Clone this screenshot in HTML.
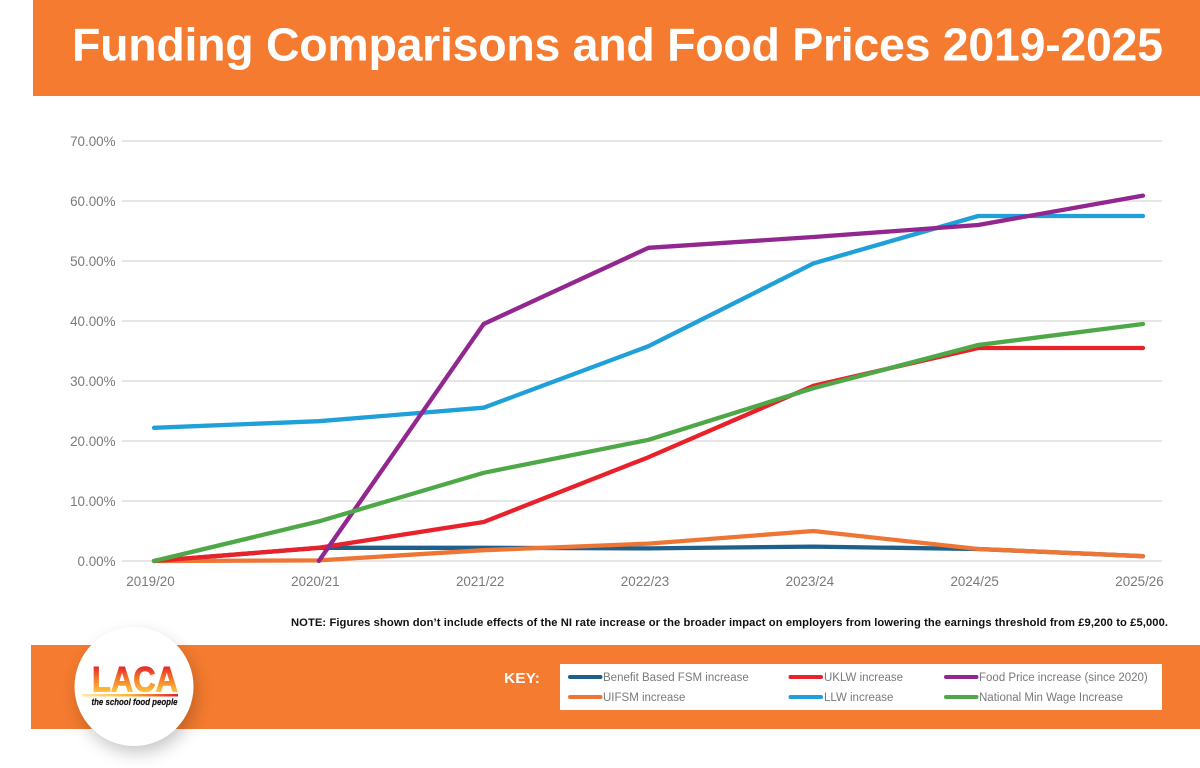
<!DOCTYPE html>
<html lang="en">
<head>
<meta charset="utf-8">
<title>Funding Comparisons and Food Prices 2019-2025</title>
<style>
html,body{margin:0;padding:0;background:#fff;width:1200px;height:768px;overflow:hidden}
svg{display:block;font-family:"Liberation Sans",Arial,sans-serif}
</style>
</head>
<body>
<svg id="page" xmlns="http://www.w3.org/2000/svg" width="1200" height="768" viewBox="0 0 1200 768">
  <defs>
    <linearGradient id="laca-grad" gradientUnits="userSpaceOnUse" x1="0" y1="666" x2="0" y2="692">
      <stop offset="0" stop-color="#e2232b"/>
      <stop offset="0.45" stop-color="#f4722a"/>
      <stop offset="1" stop-color="#fcc43a"/>
    </linearGradient>
    <linearGradient id="bar-grad" x1="0" y1="0" x2="1" y2="0">
      <stop offset="0" stop-color="#fde9a8"/>
      <stop offset="0.5" stop-color="#fbb334"/>
      <stop offset="1" stop-color="#e2232b"/>
    </linearGradient>
    <filter id="soft-shadow" x="-40%" y="-40%" width="180%" height="180%">
      <feGaussianBlur stdDeviation="9"/>
    </filter>
  </defs>

  <rect x="33" y="0" width="1167" height="96" fill="#f47b2f"/>
  <text x="72" y="60.500" font-size="46.500" font-weight="700" fill="#fff" textLength="1091" lengthAdjust="spacing">Funding Comparisons and Food Prices 2019-2025</text>

  <g id="grid"></g>
  <g id="y-axis"></g>
  <g id="x-axis"></g>
  <g id="series"></g>

  <text x="291" y="626" font-size="11.200" font-weight="700" fill="#111" textLength="877" lengthAdjust="spacing">NOTE: Figures shown don’t include effects of the NI rate increase or the broader impact on employers from lowering the earnings threshold from £9,200 to £5,000.</text>

  <rect x="31" y="645" width="1169" height="84" fill="#f47b2f"/>

  <g>
    <circle cx="137" cy="694" r="58" fill="#000" opacity="0.24" filter="url(#soft-shadow)"/>
    <circle cx="134" cy="686.500" r="59.500" fill="#fff"/>
    <text x="92" y="691.500" font-size="35.500" font-weight="700" fill="url(#laca-grad)" stroke="url(#laca-grad)" stroke-width="0.9" textLength="86" lengthAdjust="spacingAndGlyphs">LACA</text>
    <rect x="82" y="694" width="96" height="2.500" fill="url(#bar-grad)"/>
    <text x="91.500" y="705" font-size="9.600" font-weight="700" font-style="italic" fill="#111" stroke="#111" stroke-width="0.2" textLength="86" lengthAdjust="spacingAndGlyphs">the school food people</text>
  </g>

  <text x="504" y="683" font-size="14.500" font-weight="700" fill="#fff" textLength="36" lengthAdjust="spacingAndGlyphs">KEY:</text>
  <rect x="560" y="664" width="602" height="46" fill="#fff"/>

  <g>
    <line x1="570" y1="677" x2="600.500" y2="677" stroke="#1f5f8b" stroke-width="4" stroke-linecap="round"/>
    <text x="603" y="681" font-size="11.500" fill="#7a7a7a">Benefit Based FSM increase</text>
  </g>
  <g>
    <line x1="570" y1="697" x2="600.500" y2="697" stroke="#ee7534" stroke-width="4" stroke-linecap="round"/>
    <text x="603" y="701" font-size="11.500" fill="#7a7a7a">UIFSM increase</text>
  </g>
  <g>
    <line x1="790.500" y1="677" x2="821" y2="677" stroke="#e8212b" stroke-width="4" stroke-linecap="round"/>
    <text x="824" y="681" font-size="11.500" fill="#7a7a7a">UKLW increase</text>
  </g>
  <g>
    <line x1="790.500" y1="697" x2="821" y2="697" stroke="#1fa0d8" stroke-width="4" stroke-linecap="round"/>
    <text x="824" y="701" font-size="11.500" fill="#7a7a7a">LLW increase</text>
  </g>
  <g>
    <line x1="946" y1="677" x2="976.500" y2="677" stroke="#92278f" stroke-width="4" stroke-linecap="round"/>
    <text x="979" y="681" font-size="11.500" fill="#7a7a7a">Food Price increase (since 2020)</text>
  </g>
  <g>
    <line x1="946" y1="697" x2="976.500" y2="697" stroke="#4ea847" stroke-width="4" stroke-linecap="round"/>
    <text x="979" y="701" font-size="11.500" fill="#7a7a7a">National Min Wage Increase</text>
  </g>
</svg>

<script>
const categories = ["2019/20", "2020/21", "2021/22", "2022/23", "2023/24", "2024/25", "2025/26"];
const yTickValues = [0, 10, 20, 30, 40, 50, 60, 70];
const benefitFsm = [0, 2.2, 2.2, 2.1, 2.4, 2.0, 0.8];
const uifsm = [0, 0.1, 1.8, 2.9, 5.0, 2.0, 0.8];
const uklw = [0, 2.2, 6.5, 17.3, 29.2, 35.5, 35.5];
const llw = [22.2, 23.3, 25.55, 35.8, 49.6, 57.5, 57.5];
const foodPrice = [null, 0, 39.5, 52.2, 54.0, 56.0, 60.9];
const minWage = [0, 6.6, 14.7, 20.2, 28.8, 36.0, 39.5];

const NS = "http://www.w3.org/2000/svg";
const xLeft = 154, xRight = 1143, yZero = 561, yTop = 141, yMax = 70;
function xScale(i) { return xLeft + i * (xRight - xLeft) / (categories.length - 1); }
function yScale(v) { return yZero - v * (yZero - yTop) / yMax; }

const grid = document.getElementById("grid");
const yAxis = document.getElementById("y-axis");
const xAxis = document.getElementById("x-axis");
const seriesGroup = document.getElementById("series");

yTickValues.forEach(function (v) {
  const line = document.createElementNS(NS, "line");
  
  
  line.setAttribute("x1", 122);
  line.setAttribute("x2", 1162);
  line.setAttribute("y1", yScale(v));
  line.setAttribute("y2", yScale(v));
  line.setAttribute("stroke", "#dedede");
  line.setAttribute("stroke-width", "1.6");
  grid.appendChild(line);

  const label = document.createElementNS(NS, "text");
  
  
  label.setAttribute("x", 115.5);
  label.setAttribute("y", yScale(v) + 5);
  label.setAttribute("text-anchor", "end");
  label.setAttribute("font-size", "13.4");
  label.setAttribute("fill", "#7a7a7a");
  label.textContent = v.toFixed(2) + "%";
  yAxis.appendChild(label);
});

categories.forEach(function (c, i) {
  const label = document.createElementNS(NS, "text");
  
  
  label.setAttribute("x", xScale(i) - 3.5);
  label.setAttribute("y", 586);
  label.setAttribute("text-anchor", "middle");
  label.setAttribute("font-size", "13.4");
  label.setAttribute("fill", "#7a7a7a");
  label.textContent = c;
  xAxis.appendChild(label);
});

function drawSeries(values, color, name) {
  const pts = [];
  values.forEach(function (v, i) {
    if (v !== null) pts.push(xScale(i) + "," + yScale(v));
  });
  const line = document.createElementNS(NS, "polyline");
  
  
  line.setAttribute("points", pts.join(" "));
  line.setAttribute("fill", "none");
  line.setAttribute("stroke", color);
  line.setAttribute("stroke-width", "4.3");
  line.setAttribute("stroke-linecap", "round");
  line.setAttribute("stroke-linejoin", "round");
  seriesGroup.appendChild(line);
}

drawSeries(benefitFsm, "#1f5f8b", "line-benefit-fsm");
drawSeries(uifsm, "#ee7534", "line-uifsm");
drawSeries(uklw, "#e8212b", "line-uklw");
drawSeries(llw, "#1fa0d8", "line-llw");
drawSeries(foodPrice, "#92278f", "line-food-price");
drawSeries(minWage, "#4ea847", "line-national-min-wage");
</script>
</body>
</html>
